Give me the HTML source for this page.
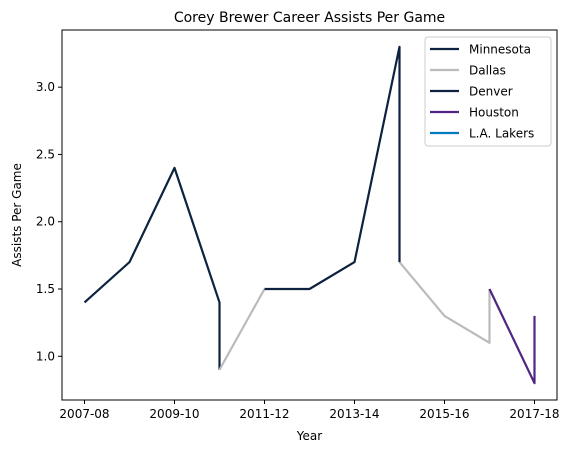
<!DOCTYPE html>
<html><head><meta charset="utf-8"><style>
body{margin:0;background:#fff;}
svg{display:block;font-family:"DejaVu Sans","Liberation Sans",sans-serif;}
</style></head><body>
<svg id="chart" width="573" height="453" viewBox="0 0 573 453"></svg>
<script>
const seasons=["2007-08","2008-09","2009-10","2010-11","2011-12","2012-13","2013-14","2014-15","2015-16","2016-17","2017-18"];
const yTicks=[1.0,1.5,2.0,2.5,3.0];
const xTickIdx=[0,2,4,6,8,10];
const teams=["Minnesota","Dallas","Denver","Houston","L.A. Lakers"];
const teamColors=["#0C2340","#BBBBBB","#0E2240","#4F2683","#007AC1"];
const minX=[0,1,2,3,3];const minY=[1.4,1.7,2.4,1.4,0.9];
const dalX=[3,4,null,7,8,9,9];const dalY=[0.9,1.5,null,1.7,1.3,1.1,1.5];
const denX=[4,5,6,7,7];const denY=[1.5,1.5,1.7,3.3,1.7];
const houX=[9,10,10];const houY=[1.5,0.8,1.3];
const lalX=[10];const lalY=[0.8];
const seriesX=[minX,dalX,denX,houX,lalX];
const seriesY=[minY,dalY,denY,houY,lalY];

const L=62,R=557,T=30,B=400;
const xmin=-0.5,xmax=10.5,ymin=0.675,ymax=3.425;
const sx=v=>L+(v-xmin)/(xmax-xmin)*(R-L);
const sy=v=>B-(v-ymin)/(ymax-ymin)*(B-T);
const svg=document.getElementById('chart');
const NS="http://www.w3.org/2000/svg";
function mk(tag,attrs,parent){const e=document.createElementNS(NS,tag);for(const k in attrs)e.setAttribute(k,attrs[k]);(parent||svg).appendChild(e);return e;}

seriesX.forEach((xs,i)=>{
  let d="",pen=false;
  xs.forEach((x,j)=>{
    const y=seriesY[i][j];
    if(x===null||y===null){pen=false;return;}
    d+=(pen?"L":"M")+sx(x)+","+sy(y)+" ";pen=true;
  });
  const p=mk('path',{d:d,fill:"none",stroke:teamColors[i],"stroke-width":2.2,"stroke-linejoin":"round"});
  
  
});
const fr=mk('rect',{x:L,y:T,width:R-L,height:B-T,fill:"none",stroke:"#000","stroke-width":1});


xTickIdx.forEach(i=>{
  const x=sx(i);
  mk('line',{x1:x,x2:x,y1:B,y2:B+4,stroke:"#000"});
  const t=mk('text',{x:x,y:B+18,"text-anchor":"middle","font-size":12});
  t.textContent=seasons[i];
  
  
});
yTicks.forEach(v=>{
  const y=sy(v);
  mk('line',{x1:L-4,x2:L,y1:y,y2:y,stroke:"#000"});
  const t=mk('text',{x:L-7,y:y+4,"text-anchor":"end","font-size":12});
  t.textContent=v.toFixed(1);
  
  
});
let t=mk('text',{x:(L+R)/2,y:440,"text-anchor":"middle","font-size":12});t.textContent="Year";


t=mk('text',{x:21,y:(T+B)/2,"text-anchor":"middle","font-size":12,transform:`rotate(-90 21 ${(T+B)/2})`});t.textContent="Assists Per Game";


t=mk('text',{x:(L+R)/2,y:22,"text-anchor":"middle","font-size":14});t.textContent="Corey Brewer Career Assists Per Game";


const lg=mk('g',{});


mk('rect',{x:425,y:37,width:126,height:109,rx:3,fill:"#fff","fill-opacity":0.8,stroke:"#ccc"},lg);
teams.forEach((n,i)=>{
  const y=49+i*21;
  const g=mk('g',{},lg);
  
  
  mk('line',{x1:430,x2:459,y1:y,y2:y,stroke:teamColors[i],"stroke-width":2.2},g);
  const tx=mk('text',{x:469,y:y+4.5,"font-size":12},g);tx.textContent=n;
});
</script>
</body></html>
